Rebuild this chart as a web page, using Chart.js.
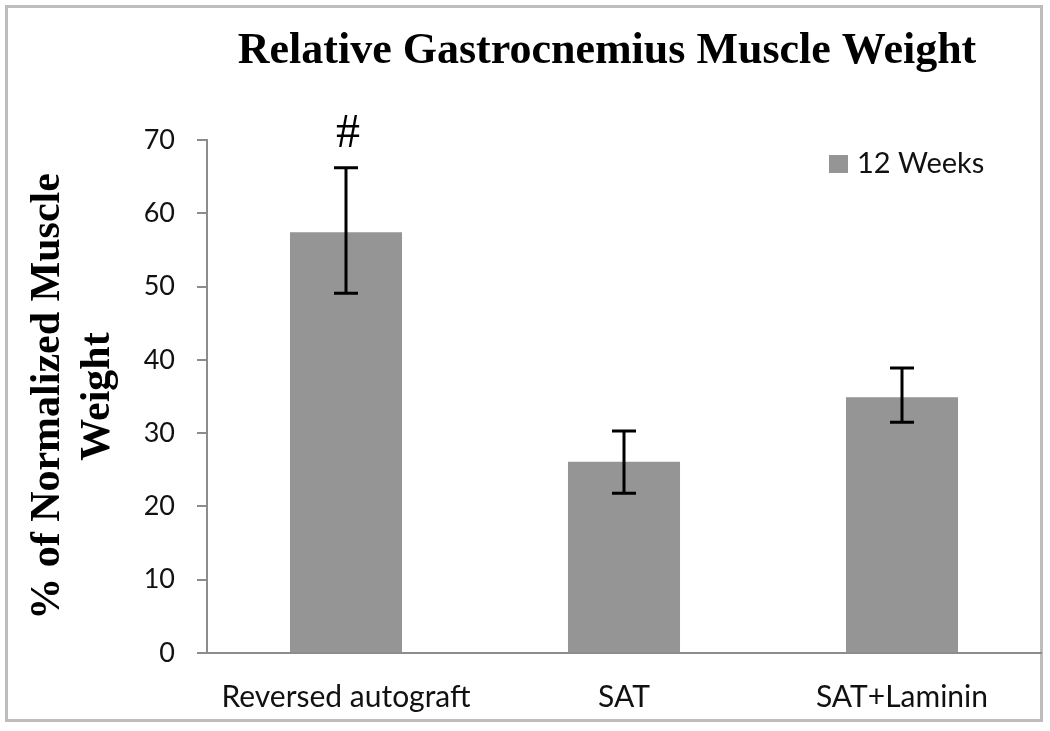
<!DOCTYPE html>
<html>
<head>
<meta charset="utf-8">
<script src="https://cdn.jsdelivr.net/npm/chart.js@4/dist/chart.umd.min.js"></script>
<style>
  html, body { margin:0; padding:0; background:#fff; }
  #wrap { width:1050px; height:731px; position:relative; }
</style>
</head>
<body>
<div id="wrap"><canvas id="myChart" width="1050" height="731"></canvas></div>
<script>
    // data
    const groups = ["Reversed autograft", "SAT", "SAT+Laminin"];
    const weight12 = [57.4, 26.1, 34.9];
    const errUpper = [66.2, 30.3, 38.9];
    const errLower = [49.1, 21.8, 31.5];
    const marks = ["#", "", ""];
    const seriesName = "12 Weeks";
    const yTicks = [0, 10, 20, 30, 40, 50, 60, 70];
    const chartTitle = "Relative Gastrocnemius Muscle Weight";
    const yTitle = ["% of Normalized Muscle", "Weight"];

    const barColour = "#959595";
    const sansFont = "Lato, 'Open Sans', sans-serif";
    const serifFont = "'Liberation Serif', 'DejaVu Serif', serif";

    // frame + title
    const frame = {
      id: "frame",
      beforeDraw(chart) {
        const ctx = chart.ctx;
        ctx.save();
        ctx.fillStyle = "#fff";
        ctx.fillRect(0, 0, chart.width, chart.height);
        ctx.strokeStyle = "#bdbdbd";
        ctx.lineWidth = 3;
        ctx.strokeRect(6.5, 6.5, 1035, 714);
        ctx.restore();
      },
      afterDraw(chart) {
        const ctx = chart.ctx;
        ctx.save();
        ctx.fillStyle = "#000";
        ctx.font = "bold 44px " + serifFont;
        ctx.textAlign = "center";
        ctx.textBaseline = "alphabetic";
        ctx.fillText(chartTitle, 607, 63);
        ctx.restore();
      }
    };

    // error bars, significance marks and the legend inside the plot
    const errorBars = {
      id: "errorBars",
      afterDatasetsDraw(chart) {
        const ctx = chart.ctx;
        const x = chart.scales.x, y = chart.scales.y;
        ctx.save();
        ctx.strokeStyle = "#000";
        ctx.lineWidth = 3;
        groups.forEach((g, i) => {
          const px = x.getPixelForValue(i);
          const top = y.getPixelForValue(errUpper[i]);
          const bot = y.getPixelForValue(errLower[i]);
          ctx.beginPath();
          ctx.moveTo(px, top); ctx.lineTo(px, bot);
          ctx.moveTo(px - 12, top); ctx.lineTo(px + 12, top);
          ctx.moveTo(px - 12, bot); ctx.lineTo(px + 12, bot);
          ctx.stroke();
          if (marks[i]) {
            ctx.fillStyle = "#000";
            ctx.font = "48px " + serifFont;
            ctx.textAlign = "center";
            ctx.textBaseline = "alphabetic";
            ctx.fillText(marks[i], px + 2, top - 21);
          }
        });
        // legend
        ctx.fillStyle = barColour;
        ctx.fillRect(829, 155, 19, 18);
        ctx.fillStyle = "#111";
        ctx.font = "29px " + sansFont;
        ctx.textAlign = "left";
        ctx.textBaseline = "middle";
        ctx.fillText(chart.data.datasets[0].label, 857, 164);
        ctx.restore();
      }
    };

    const myChart = new Chart("myChart", {
      type: "bar",
      data: {
        labels: groups,
        datasets: [{
          label: seriesName,
          data: weight12,
          backgroundColor: barColour,
          barPercentage: 0.403,
          categoryPercentage: 1.0
        }]
      },
      options: {
        responsive: false,
        animation: false,
        layout: { padding: { top: 140, right: 9, bottom: 0, left: 0 } },
        plugins: {
          legend: { display: false },
          title: { display: false },
          tooltip: { enabled: false }
        },
        scales: {
          x: {
            grid: { display: false, drawTicks: false },
            border: { color: "#8c8c8c", width: 2 },
            ticks: {
              color: "#111",
              font: { family: sansFont, size: 30 },
              padding: 26,
              maxRotation: 0
            },
            afterFit: s => { s.height = 78; }
          },
          y: {
            min: 0,
            max: 70,
            afterBuildTicks: s => { s.ticks = yTicks.map(v => ({ value: v })); },
            grid: { drawOnChartArea: false, drawTicks: true, tickLength: 10, color: "#8c8c8c", lineWidth: 2 },
            border: { color: "#8c8c8c", width: 2 },
            ticks: {
              color: "#111",
              font: { family: sansFont, size: 27 },
              padding: 22
            },
            title: {
              display: true,
              text: yTitle,
              color: "#000",
              font: { family: serifFont, size: 42, weight: "bold", lineHeight: 1.2 },
              padding: { top: 23, bottom: 0 }
            },
            afterFit: s => { s.width = 207; }
          }
        }
      },
      plugins: [frame, errorBars]
    });
</script>
</body>
</html>
